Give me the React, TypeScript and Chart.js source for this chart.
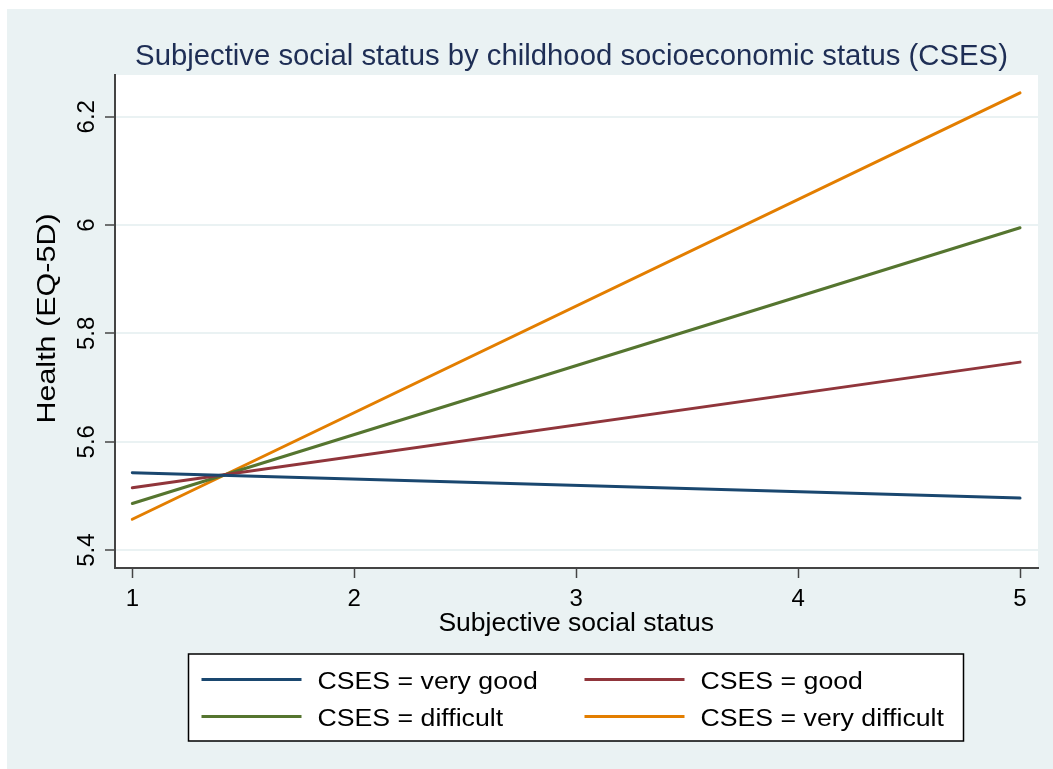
import React, { useEffect, useRef } from "react";
import { Chart, registerables } from "chart.js";

Chart.register(...registerables);

// Predicted health by subjective social status, one line per CSES group
const TITLE = "Subjective social status by childhood socioeconomic status (CSES)";
const X_TITLE = "Subjective social status";
const Y_TITLE = "Health (EQ-5D)";

const SSS = [1, 5];
const VERY_GOOD = [5.543, 5.496];
const GOOD = [5.515, 5.747];
const DIFFICULT = [5.486, 5.995];
const VERY_DIFFICULT = [5.457, 6.244];

const SERIES_LABELS = [
  "CSES = very good",
  "CSES = good",
  "CSES = difficult",
  "CSES = very difficult",
];

const X_TICKS = [1, 2, 3, 4, 5];
const Y_TICKS = [5.4, 5.6, 5.8, 6, 6.2];
const Y_TICK_LABELS = ["5.4", "5.6", "5.8", "6", "6.2"];

const COLORS = ["#1A476F", "#90353B", "#55752F", "#E37E00"];
const PANEL_BG = "#EAF2F3";
const TITLE_COLOR = "#1E2E55";
const AXIS_COLOR = "#444444";
const FONT = "'Liberation Sans', Arial, sans-serif";

const W = 1053;
const H = 769;

const toPoints = (ys: number[]) => ys.map((y, i) => ({ x: SSS[i], y }));

const framePlugin = {
  id: "statFrame",
  beforeDraw(chart: any) {
    const { ctx, chartArea: a, width, height } = chart;
    ctx.save();
    ctx.fillStyle = "#ffffff";
    ctx.fillRect(0, 0, width, height);
    ctx.fillStyle = PANEL_BG;
    ctx.fillRect(7, 9, width - 7, height - 9);
    ctx.fillStyle = "#ffffff";
    ctx.fillRect(a.left, a.top, a.right - a.left, a.bottom - a.top);
    ctx.restore();
  },
  afterDraw(chart: any) {
    const { ctx, chartArea: a, scales } = chart;
    const ys = scales.y;
    const xs = scales.x;
    const midX = (a.left + a.right) / 2;

    ctx.save();
    // chart title
    ctx.font = `29.3px ${FONT}`;
    ctx.fillStyle = TITLE_COLOR;
    ctx.textAlign = "center";
    ctx.textBaseline = "alphabetic";
    ctx.fillText(TITLE, midX - 5, a.top - 10);

    // rotated y tick labels
    ctx.fillStyle = "#000000";
    ctx.font = `24px ${FONT}`;
    Y_TICKS.forEach((v, i) => {
      const y = ys.getPixelForValue(v);
      ctx.save();
      ctx.translate(a.left - 21.5, y);
      ctx.rotate(-Math.PI / 2);
      ctx.fillText(Y_TICK_LABELS[i], 0, 0);
      ctx.restore();
    });

    // y axis title
    ctx.save();
    ctx.font = `25px ${FONT}`;
    ctx.translate(a.left - 60, (a.top + a.bottom) / 2 - 3);
    ctx.rotate(-Math.PI / 2);
    ctx.scale(1.22, 1);
    ctx.fillText(Y_TITLE, 0, 0);
    ctx.restore();

    // x axis title
    ctx.font = `26.5px ${FONT}`;
    ctx.fillText(X_TITLE, (xs.getPixelForValue(1) + xs.getPixelForValue(5)) / 2, a.bottom + 63);

    // legend box
    const lx = 188.5;
    const ly = 654;
    const lw = 775;
    const lh = 87;
    ctx.fillStyle = "#ffffff";
    ctx.fillRect(lx, ly, lw, lh);
    ctx.strokeStyle = "#000000";
    ctx.lineWidth = 1.5;
    ctx.strokeRect(lx, ly, lw, lh);

    const colX = [lx + 13, lx + 396];
    const rowY = [ly + 25.5, ly + 62.5];
    ctx.textAlign = "left";
    SERIES_LABELS.forEach((label, i) => {
      const cx = colX[i % 2];
      const ry = rowY[Math.floor(i / 2)];
      ctx.strokeStyle = COLORS[i];
      ctx.lineWidth = 3;
      ctx.beginPath();
      ctx.moveTo(cx, ry);
      ctx.lineTo(cx + 100, ry);
      ctx.stroke();
      ctx.save();
      ctx.translate(cx + 116, ry + 9);
      ctx.scale(1.16, 1);
      ctx.font = `23px ${FONT}`;
      ctx.fillStyle = "#000000";
      ctx.fillText(label, 0, 0);
      ctx.restore();
    });
    ctx.restore();
  },
};

export default function App() {
  const ref = useRef<HTMLCanvasElement | null>(null);

  useEffect(() => {
    if (!ref.current) return;
    const series = [VERY_GOOD, GOOD, DIFFICULT, VERY_DIFFICULT];
    const chart = new Chart(ref.current, {
      type: "line",
      data: {
        datasets: series.map((s, i) => ({
          label: SERIES_LABELS[i],
          data: toPoints(s),
          borderColor: COLORS[i],
          backgroundColor: COLORS[i],
          borderWidth: 3,
          borderCapStyle: "round" as const,
          pointRadius: 0,
          fill: false,
          tension: 0,
        })),
      },
      options: {
        responsive: false,
        animation: false,
        devicePixelRatio: 1,
        layout: { padding: { left: 75, top: 75, right: 15, bottom: 141 } },
        plugins: {
          legend: { display: false },
          title: { display: false },
          tooltip: { enabled: false },
        },
        scales: {
          x: {
            type: "linear",
            min: 0.922,
            max: 5.081,
            afterBuildTicks: (scale: any) => {
              scale.ticks = X_TICKS.map((v) => ({ value: v }));
            },
            afterFit: (scale: any) => {
              scale.height = 60;
            },
            ticks: {
              font: { family: FONT, size: 24 },
              color: "#000000",
              padding: 7,
              maxRotation: 0,
              callback: (v: any) => String(v),
            },
            grid: {
              drawOnChartArea: false,
              drawTicks: true,
              tickLength: 10,
              tickColor: AXIS_COLOR,
              tickWidth: 1.5,
            },
            border: { display: true, color: AXIS_COLOR, width: 2 },
          },
          y: {
            type: "linear",
            min: 5.367,
            max: 6.277,
            afterBuildTicks: (scale: any) => {
              scale.ticks = Y_TICKS.map((v) => ({ value: v }));
            },
            afterFit: (scale: any) => {
              scale.width = 40;
            },
            ticks: { display: false },
            grid: {
              color: PANEL_BG,
              lineWidth: 2,
              drawTicks: true,
              tickLength: 10,
              tickColor: AXIS_COLOR,
              tickWidth: 1.5,
            },
            border: { display: true, color: AXIS_COLOR, width: 2 },
          },
        },
      },
      plugins: [framePlugin],
    });
    return () => chart.destroy();
  }, []);

  return (
    <div style={{ position: "fixed", left: 0, top: 0, width: W, height: H }}>
      <canvas ref={ref} width={W} height={H} style={{ display: "block", width: W, height: H }} />
    </div>
  );
}
